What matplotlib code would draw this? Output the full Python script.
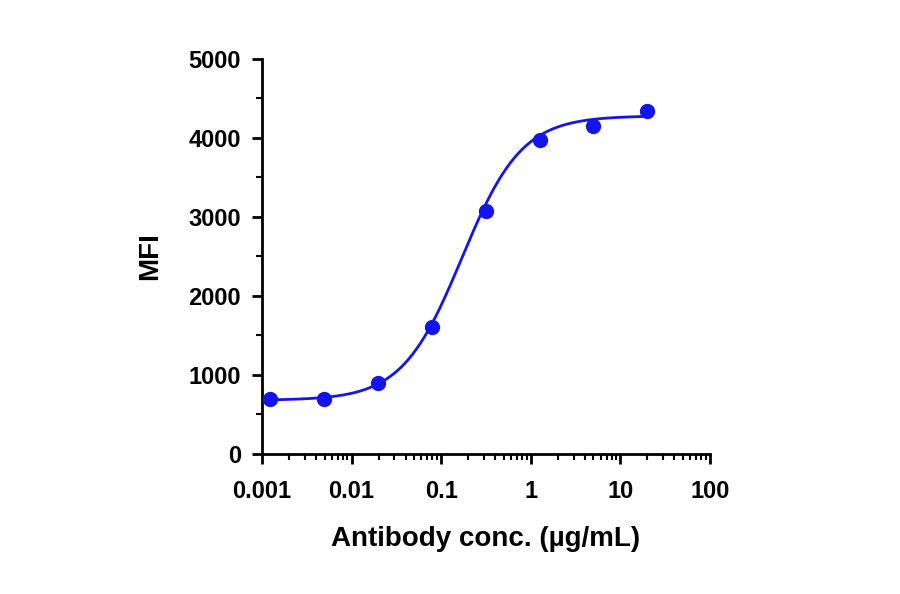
import numpy as np
import matplotlib.pyplot as plt
from matplotlib.ticker import FixedLocator, LogLocator, NullFormatter

plt.rcParams['font.family'] = ['Liberation Sans', 'DejaVu Sans']

# measured points
conc = [0.00122, 0.0049, 0.0195, 0.078, 0.3125, 1.25, 5, 20]
mfi = [690, 700, 900, 1610, 3070, 3980, 4150, 4340]

# 4PL fit parameters (bottom, top, EC50, hill)
bottom, top, ec50, hill = 680, 4280, 0.17, 1.3

fig = plt.figure(figsize=(9, 5.94), dpi=100)
ax = fig.add_axes([0.291, 0.2357, 0.498, 0.665])

xs = np.logspace(np.log10(0.001), np.log10(20), 300)
ys = bottom + (top - bottom) / (1 + (ec50 / xs) ** hill)
ax.plot(xs, ys, color='#1414f0', linewidth=2)
ax.scatter(conc, mfi, color='#1414f0', s=100, zorder=3)

ax.set_xscale('log')
ax.set_xlim(0.001, 100)
ax.set_ylim(0, 5000)
ax.set_xticks([0.001, 0.01, 0.1, 1, 10, 100])
ax.set_xticklabels(['0.001', '0.01', '0.1', '1', '10', '100'])
ax.xaxis.set_minor_locator(LogLocator(base=10, subs=np.arange(2, 10)))
ax.xaxis.set_minor_formatter(NullFormatter())
ax.set_yticks([0, 1000, 2000, 3000, 4000, 5000])
ax.yaxis.set_minor_locator(FixedLocator(np.arange(500, 5000, 1000)))

for s in ['top', 'right']:
    ax.spines[s].set_visible(False)
for s in ['left', 'bottom']:
    ax.spines[s].set_linewidth(2)
ax.tick_params(which='major', width=2, length=7, labelsize=17)
ax.tick_params(axis='x', which='major', pad=12)
ax.tick_params(axis='y', which='major', pad=8)
ax.tick_params(which='minor', width=1.5, length=4)
for lab in ax.get_xticklabels() + ax.get_yticklabels():
    lab.set_fontweight('bold')

ax.set_xlabel('Antibody conc. (µg/mL)', fontsize=20, fontweight='bold', labelpad=16)
ax.set_ylabel('MFI', fontsize=20, fontweight='bold', labelpad=18)

fig.savefig('out.png', dpi=100)
